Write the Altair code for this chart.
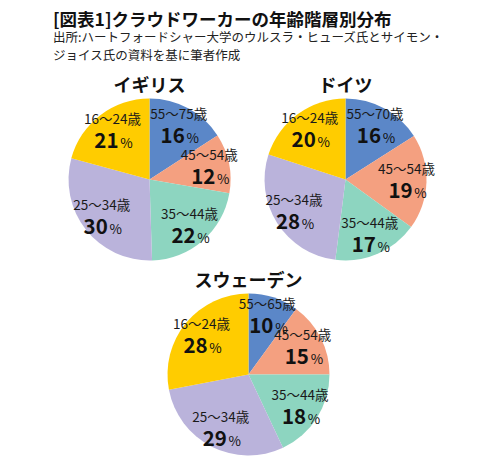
import altair as alt
import pandas as pd

FONT = "Noto Sans CJK JP"

countries = ["イギリス", "ドイツ", "スウェーデン"]
uk_ages = ["55〜75歳", "45〜54歳", "35〜44歳", "25〜34歳", "16〜24歳"]
de_ages = ["55〜70歳", "45〜54歳", "35〜44歳", "25〜34歳", "16〜24歳"]
se_ages = ["55〜65歳", "45〜54歳", "35〜44歳", "25〜34歳", "16〜24歳"]
uk_share = [16, 12, 22, 30, 21]
de_share = [16, 19, 17, 28, 20]
se_share = [10, 15, 18, 29, 28]
slice_colors = ["#5B87C8", "#F4A080", "#8DD5C0", "#BAB3DB", "#FFCC00"]

LABEL_R = 61


def make_pie(country, ages, shares):
    df = pd.DataFrame({"age": ages, "share": shares, "slot": list(range(len(ages)))})
    base = alt.Chart(df).encode(
        theta=alt.Theta("share:Q", stack=True),
        order=alt.Order("slot:Q"),
        color=alt.Color("slot:N", scale=alt.Scale(domain=list(range(5)), range=slice_colors), legend=None),
    )
    arcs = base.mark_arc(outerRadius=81)
    age_text = base.mark_text(radius=LABEL_R, dy=-11, font=FONT, fontSize=13.5).encode(
        text="age:N", color=alt.value("#1a1a1a")
    )
    num_text = base.mark_text(radius=LABEL_R, dy=11, dx=-6, font=FONT, fontSize=20.5, fontWeight="bold").encode(
        text="share:N", color=alt.value("#111111")
    )
    pct_text = base.mark_text(radius=LABEL_R, dy=13, dx=14, font=FONT, fontSize=13.5, text="%").encode(
        color=alt.value("#111111")
    )
    return alt.layer(arcs, age_text, num_text, pct_text).properties(
        width=175, height=165,
        title=alt.TitleParams(country, font=FONT, fontSize=18, fontWeight="bold", offset=1, color="#111111"),
    )


uk = make_pie(countries[0], uk_ages, uk_share)
de = make_pie(countries[1], de_ages, de_share)
se = make_pie(countries[2], se_ages, se_share)

top = alt.hconcat(uk, de, spacing=20)
chart = alt.vconcat(top, se, spacing=11, center=True).properties(
    title=alt.TitleParams(
        "[図表1]クラウドワーカーの年齢階層別分布",
        subtitle=["出所:ハートフォードシャー大学のウルスラ・ヒューズ氏とサイモン・",
                  "ジョイス氏の資料を基に筆者作成"],
        anchor="start", font=FONT, fontSize=17.5, fontWeight="bold", color="#111111",
        subtitleFont=FONT, subtitleFontSize=12.5, subtitleColor="#222222",
        subtitleLineHeight=18, subtitlePadding=2, offset=16, dx=-9,
    ),
    padding={"left": 45, "top": 4, "right": 5, "bottom": 5},
).configure_view(stroke=None)

chart.save("out.html", embed_options={"renderer": "svg", "actions": False})
